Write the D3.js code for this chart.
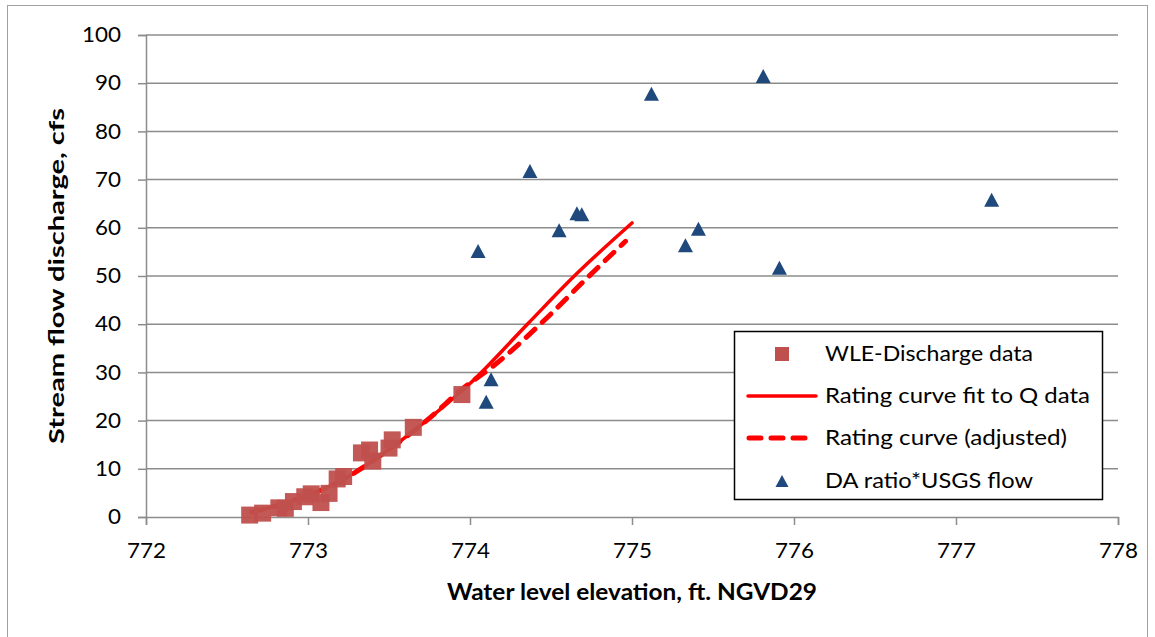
<!DOCTYPE html>
<html><head><meta charset="utf-8">
<script src="https://cdn.jsdelivr.net/npm/d3@7"></script>
<style>body{margin:0;background:#fff}svg{display:block}text{font-family:Lato,"Open Sans",sans-serif}</style>
</head><body>
<script>
// Data
const wleX = [772.64,772.72,772.82,772.86,772.91,772.98,773.02,773.08,773.13,773.18,773.22,773.33,773.38,773.40,773.50,773.52,773.65,773.95];
const wleY = [0.4,0.8,1.9,1.8,3.2,4.2,4.8,3.0,4.9,7.9,8.4,13.3,13.9,11.6,14.3,16.0,18.6,25.4];
const fitX = [772.65,772.9,773.2,773.5,773.75,774.0,774.36,774.65,775.0];
const fitY = [1.0,3.3,7.5,14.0,20.5,27.7,40.2,50.2,61.0];
const adjX = [772.65,772.9,773.2,773.5,773.75,773.95,774.15,774.48,774.72,774.96];
const adjY = [1.0,3.3,7.5,14.0,20.5,26.5,31.5,41.5,49.5,57.2];
const usgsX = [774.05,774.37,774.55,774.66,774.69,775.12,775.33,775.41,775.81,775.91,777.22,774.10,774.13];
const usgsY = [55.2,71.8,59.5,63.0,62.8,87.8,56.4,59.8,91.5,51.7,65.8,23.9,28.6];
const xTicks = [772,773,774,775,776,777,778];
const yTicks = [0,10,20,30,40,50,60,70,80,90,100];
const legendLabels = ["WLE-Discharge data","Rating curve fit to Q data","Rating curve (adjusted)","DA ratio*USGS flow"];

const W=1155,H=637;
const svg=d3.select("body").append("svg").attr("width",W).attr("height",H);
svg.append("rect").attr("x",7.5).attr("y",5.5).attr("width",1140).attr("height",H).attr("fill","#fff").attr("stroke","#a0a0a0").attr("stroke-width",1);

const x=d3.scaleLinear().domain([772,778]).range([146,1118]);
const y=d3.scaleLinear().domain([0,100]).range([517,35]);
const grid="#8c8c8c";

// gridlines
svg.append("g").selectAll("line").data(yTicks.filter(d=>d>0)).join("line")
 .attr("x1",x(772)).attr("x2",x(778)).attr("y1",d=>y(d)).attr("y2",d=>y(d))
 .attr("stroke",grid).attr("stroke-width",1.5);

// axes
const ya=svg.append("g").attr("transform",`translate(${x(772)},0)`)
 .call(d3.axisLeft(y).tickValues(yTicks).tickSize(8).tickPadding(17));
const xa=svg.append("g").attr("transform",`translate(0,${y(0)})`)
 .call(d3.axisBottom(x).tickValues(xTicks).tickSize(8).tickPadding(18).tickFormat(d3.format("d")));
[ya,xa].forEach(a=>{a.select(".domain").attr("stroke",grid).attr("stroke-width",1.5);
 a.selectAll(".tick line").attr("stroke",grid).attr("stroke-width",1.5);
 a.selectAll("text").attr("font-size",21).attr("fill","#000").attr("font-family","Lato")
  .attr("textLength",function(){return this.textContent.length*13;}).attr("lengthAdjust","spacingAndGlyphs");});

// titles
svg.append("text").attr("x",632).attr("y",600).attr("text-anchor","middle").attr("font-weight","bold").attr("font-size",22)
 .attr("textLength",370).attr("lengthAdjust","spacingAndGlyphs").text("Water level elevation, ft. NGVD29");
svg.append("text").attr("transform","translate(57,276) rotate(-90)").attr("dy","0.35em").attr("text-anchor","middle").attr("font-weight","bold").attr("font-size",21)
 .attr("textLength",336).attr("lengthAdjust","spacingAndGlyphs").text("Stream flow discharge,  cfs");

const line=d3.line().x(d=>x(d[0])).y(d=>y(d[1])).curve(d3.curveMonotoneX);
svg.append("path").datum(fitX.map((v,i)=>[v,fitY[i]])).attr("d",line).attr("fill","none").attr("stroke","#ff0000").attr("stroke-width",3.5).attr("stroke-linecap","round");
svg.append("path").datum(adjX.map((v,i)=>[v,adjY[i]])).attr("d",line).attr("fill","none").attr("stroke","#ff0000").attr("stroke-width",5).attr("stroke-dasharray","12,10").attr("stroke-linecap","round");

const sq=17;
svg.append("g").selectAll("rect").data(wleX.map((v,i)=>[v,wleY[i]])).join("rect")
 .attr("x",d=>x(d[0])-sq/2).attr("y",d=>y(d[1])-sq/2).attr("width",sq).attr("height",sq)
 .attr("fill","#c0504d").attr("fill-opacity",0.95);

const tri="M0,-7L7.5,7L-7.5,7Z";
svg.append("g").selectAll("path").data(usgsX.map((v,i)=>[v,usgsY[i]])).join("path")
 .attr("transform",d=>`translate(${x(d[0])},${y(d[1])})`).attr("d",tri).attr("fill","#1f497d");

// legend
const lg=svg.append("g");
lg.append("rect").attr("x",734.5).attr("y",331.5).attr("width",368).attr("height",168).attr("fill","#fff").attr("stroke","#000").attr("stroke-width",1.5);
const ly=[354,396,438,481];
const lw=[208,265,242,208];
lg.append("rect").attr("x",775).attr("y",ly[0]-7).attr("width",14).attr("height",14).attr("fill","#c0504d");
lg.append("line").attr("x1",748).attr("x2",816).attr("y1",ly[1]).attr("y2",ly[1]).attr("stroke","#ff0000").attr("stroke-width",3.5).attr("stroke-linecap","round");
lg.append("line").attr("x1",749).attr("x2",815).attr("y1",ly[2]).attr("y2",ly[2]).attr("stroke","#ff0000").attr("stroke-width",5).attr("stroke-dasharray","12,10").attr("stroke-linecap","round");
lg.append("path").attr("transform",`translate(782,${ly[3]})`).attr("d","M0,-6L6.5,6L-6.5,6Z").attr("fill","#1f497d");
lg.selectAll("text.l").data(legendLabels).join("text").attr("class","l")
 .attr("x",825).attr("y",(d,i)=>ly[i]).attr("dy","0.35em").attr("font-size",21)
 .attr("textLength",(d,i)=>lw[i]).attr("lengthAdjust","spacingAndGlyphs").text(d=>d);
</script>
</body></html>
